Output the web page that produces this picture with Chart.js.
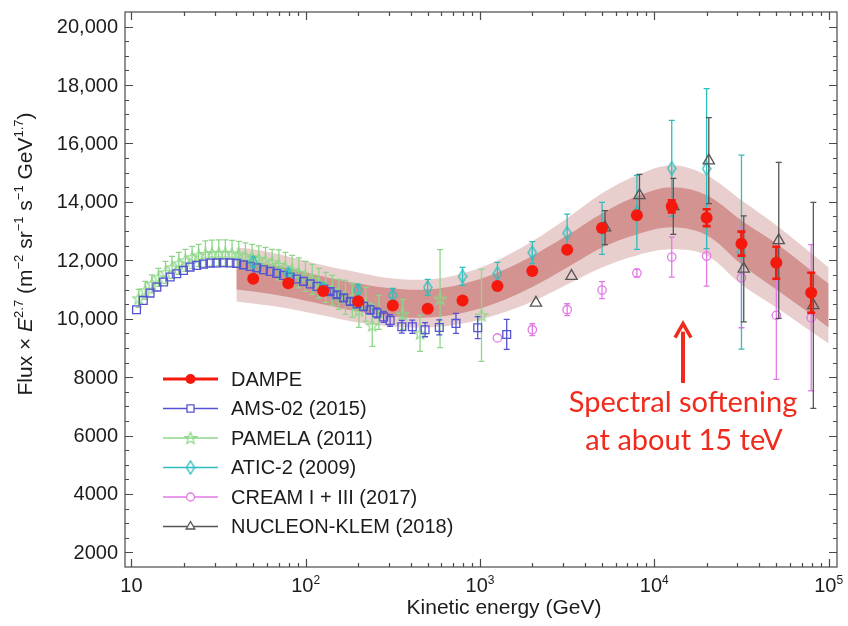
<!DOCTYPE html>
<html>
<head>
<meta charset="utf-8">
<title>Proton spectrum</title>
<script src="https://cdn.jsdelivr.net/npm/chart.js@4.4.0/dist/chart.umd.min.js"></script>
<style>
  html, body { margin: 0; padding: 0; background: #fff; }
  #wrap { width: 848px; height: 626px; position: relative; }
</style>
</head>
<body>
<div id="wrap"><canvas id="spectrum"></canvas></div>
<script>
// ---- measurements: kinetic energy (GeV) vs flux x E^2.7 ----
const dampeEnergy = [50, 79.4, 126, 200, 316, 501, 794, 1259, 1995, 3162, 5012, 7943, 12589, 19953, 31623, 50119, 79433];
const dampeFlux   = [11370, 11216, 10945, 10600, 10455, 10342, 10627, 11123, 11630, 12363, 13103, 13538, 13846, 13459, 12569, 11918, 10890];
const dampeErr    = [0, 0, 0, 0, 0, 0, 0, 0, 0, 50, 70, 100, 205, 290, 411, 548, 685];

// systematic bands around the DAMPE fit
const bandEnergy = [40, 50, 79.4, 126, 200, 316, 501, 794, 1259, 1995, 3162, 5012, 7943, 12589, 19953, 31623, 50119, 79433, 100000];
const outerHi = [12442, 12374, 12134, 11826, 11586, 11380, 11346, 11551, 11997, 12648, 13435, 14291, 14908, 15250, 14908, 14052, 13196, 12237, 11757];
const innerHi = [12031, 11962, 11740, 11449, 11209, 11038, 11003, 11192, 11586, 12151, 12853, 13606, 14189, 14497, 14223, 13366, 12579, 11654, 11209];
const innerLo = [11003, 10935, 10747, 10490, 10250, 10079, 10045, 10199, 10558, 11089, 11757, 12442, 12887, 13127, 12853, 11860, 11003, 10147, 9702];
const outerLo = [10593, 10524, 10353, 10113, 9873, 9736, 9702, 9839, 10147, 10593, 11175, 11757, 12168, 12374, 12168, 11175, 10387, 9565, 9154];

const amsEnergy = [10.7, 11.7, 12.8, 14.0, 15.3, 16.7, 18.2, 19.9, 21.7, 23.7, 25.9, 28.3, 30.9, 33.7, 36.8, 40.2, 43.9, 48.0, 52.4, 57.2,
                   62.5, 68.2, 74.5, 81.4, 88.9, 97.1, 106, 116, 127, 138, 151, 165, 180, 197, 215, 234, 256, 280, 305,
                   356, 409, 484, 584, 728, 970, 1423];
const amsFlux   = [10308, 10627, 10877, 11082, 11254, 11425, 11541, 11654, 11767, 11825, 11870, 11904, 11911, 11918, 11911, 11894, 11843, 11791, 11740, 11678,
                   11620, 11552, 11483, 11425, 11357, 11278, 11192, 11106, 11014, 10928, 10822, 10712, 10593, 10507, 10421, 10308, 10199, 10062, 9942,
                   9726, 9726, 9623, 9702, 9839, 9692, 9462];
const amsErr    = [0, 0, 0, 0, 0, 0, 0, 0, 0, 0, 0, 0, 0, 0, 0, 0, 0, 0, 0, 0,
                   0, 0, 0, 0, 0, 0, 0, 0, 80, 90, 100, 110, 120, 130, 140, 150, 170, 190, 200,
                   220, 225, 240, 257, 342, 377, 514];

const pamelaEnergy = [11.0, 12.0, 13.1, 14.3, 15.7, 17.1, 18.7, 20.4, 22.3, 24.3, 26.6, 29.0, 31.7, 34.6, 37.8, 41.3, 45.1, 49.3, 53.8, 58.8,
                      64.2, 70.1, 76.5, 83.6, 91.3, 99.7, 109, 119, 130, 142, 155, 169, 185, 202, 221, 241, 263,
                      360, 453, 590, 1020];
const pamelaFlux   = [10695, 10969, 11192, 11415, 11586, 11757, 11894, 11997, 12100, 12168, 12219, 12247, 12254, 12254, 12237, 12202, 12151, 12100, 12048, 11997,
                      11928, 11843, 11757, 11654, 11569, 11449, 11346, 11209, 11072, 10969, 10832, 10730, 10627, 10284, 10490, 9771, 10216,
                      10147, 9497, 10685, 10113];
const pamelaErr    = [308, 308, 308, 308, 377, 377, 377, 377, 377, 377, 445, 445, 445, 445, 445, 445, 445, 445, 445, 445,
                      445, 514, 514, 514, 514, 514, 514, 514, 514, 514, 514, 582, 582, 582, 582, 719, 582,
                      514, 617, 1678, 1575];

const aticEnergy = [50, 79.4, 126, 200, 316, 501, 794, 1259, 1995, 3162, 5012, 7943, 12589, 19953, 31623];
const aticFlux   = [11939, 11534, 11028, 10969, 10798, 11072, 11449, 11552, 12264, 12932, 13093, 13641, 15148, 15138, 12281];
const aticErr    = [171, 171, 171, 205, 240, 274, 308, 377, 377, 650, 890, 1267, 1644, 2740, 3322];

const creamEnergy = [1259, 1995, 3162, 5012, 7943, 12589, 19953, 31623, 50119, 79433];
const creamFlux   = [9342, 9623, 10308, 10980, 11562, 12110, 12144, 11404, 10113, 10034];
const creamErr    = [0, 205, 205, 291, 137, 685, 1028, 1713, 2192, 2500];

const nucleonEnergy = [2094, 3350, 5212, 8222, 12850, 20540, 32590, 51740, 81700];
const nucleonFlux   = [10541, 11459, 13120, 14223, 13846, 15412, 11706, 12682, 10455];
const nucleonErr    = [0, 0, 582, 719, 959, 1473, 1815, 2672, 3528];

// axis ticks and labels
const yTickValues = [2000, 4000, 6000, 8000, 10000, 12000, 14000, 16000, 18000, 20000];
const yTickLabels = ['2000', '4000', '6000', '8000', '10,000', '12,000', '14,000', '16,000', '18,000', '20,000'];
const xTickValues = [10, 100, 1000, 10000, 100000];
const xTickExponents = ['', '2', '3', '4', '5'];

const legendLabels = ['DAMPE', 'AMS-02 (2015)', 'PAMELA (2011)', 'ATIC-2 (2009)', 'CREAM I + III (2017)', 'NUCLEON-KLEM (2018)'];
const noteLines = ['Spectral softening', 'at about 15 teV'];
const noteEnergy = 15000;
const arrowFrom = 7800;   // flux units
const arrowTo = 9900;

const FONT = '"Liberation Sans", Arial, Helvetica, sans-serif';
const RED = '#f5190d';
const AMS_COLOR = '#5552d4';
const PAMELA_COLOR = '#8fd68a';
const ATIC_COLOR = '#2dbfbd';
const CREAM_COLOR = '#e27ae6';
const NUCLEON_COLOR = '#555555';
const NOTE_RED = '#f02a1c';

const pts = (xs, ys) => xs.map((x, i) => ({ x: x, y: ys[i] }));

// open five-pointed star marker
function makeStar(color) {
    const c = document.createElement('canvas');
    c.width = 14; c.height = 14;
    const g = c.getContext('2d');
    g.strokeStyle = color;
    g.lineWidth = 1.2;
    g.beginPath();
    for (let i = 0; i < 10; i++) {
        const r = i % 2 === 0 ? 6.2 : 2.6;
        const a = -Math.PI / 2 + i * Math.PI / 5;
        const px = 7 + r * Math.cos(a), py = 7.5 + r * Math.sin(a);
        if (i === 0) g.moveTo(px, py); else g.lineTo(px, py);
    }
    g.closePath();
    g.stroke();
    return c;
}

// open tall diamond marker
function makeDiamond(color) {
    const c = document.createElement('canvas');
    c.width = 10; c.height = 15;
    const g = c.getContext('2d');
    g.strokeStyle = color;
    g.lineWidth = 1.4;
    g.beginPath();
    g.moveTo(5, 1); g.lineTo(9, 7.5); g.lineTo(5, 14); g.lineTo(1, 7.5);
    g.closePath();
    g.stroke();
    return c;
}

const starImg = makeStar(PAMELA_COLOR);
const diamondImg = makeDiamond(ATIC_COLOR);

function band(data, fill, color, order) {
    return {
        type: 'line', data: data, order: order,
        fill: fill, backgroundColor: color,
        borderWidth: 0, pointRadius: 0, tension: 0.35, showLine: true
    };
}

const datasets = [
    { label: legendLabels[0], data: pts(dampeEnergy, dampeFlux), errors: dampeErr, errorWidth: 2.6, cap: 4,
      pointStyle: 'circle', pointRadius: 6, pointBackgroundColor: RED, pointBorderColor: RED, pointBorderWidth: 0,
      borderColor: RED, order: 0 },
    { label: legendLabels[1], data: pts(amsEnergy, amsFlux), errors: amsErr, cap: 3,
      pointStyle: 'rect', pointRadius: 5.5, pointBackgroundColor: 'rgba(0,0,0,0)', pointBorderColor: AMS_COLOR, pointBorderWidth: 1.3,
      borderColor: AMS_COLOR, order: 3 },
    { label: legendLabels[2], data: pts(pamelaEnergy, pamelaFlux), errors: pamelaErr, cap: 3,
      pointStyle: starImg, pointRadius: 6,
      borderColor: PAMELA_COLOR, order: 4 },
    { label: legendLabels[3], data: pts(aticEnergy, aticFlux), errors: aticErr, cap: 3,
      pointStyle: diamondImg, pointRadius: 6,
      borderColor: ATIC_COLOR, order: 2 },
    { label: legendLabels[4], data: pts(creamEnergy, creamFlux), errors: creamErr, cap: 3,
      pointStyle: 'circle', pointRadius: 4.2, pointBackgroundColor: 'rgba(0,0,0,0)', pointBorderColor: CREAM_COLOR, pointBorderWidth: 1.3,
      borderColor: CREAM_COLOR, order: 5 },
    { label: legendLabels[5], data: pts(nucleonEnergy, nucleonFlux), errors: nucleonErr, cap: 3,
      pointStyle: 'triangle', pointRadius: 6.5, pointBackgroundColor: 'rgba(0,0,0,0)', pointBorderColor: NUCLEON_COLOR, pointBorderWidth: 1.3,
      borderColor: NUCLEON_COLOR, order: 1 },
    band(pts(bandEnergy, outerHi), '+1', 'rgba(195,120,120,0.36)', 20),
    band(pts(bandEnergy, outerLo), false, 'rgba(0,0,0,0)', 20),
    band(pts(bandEnergy, innerHi), '+1', 'rgba(180,70,65,0.44)', 19),
    band(pts(bandEnergy, innerLo), false, 'rgba(0,0,0,0)', 19)
];

// vertical error bars drawn just under each marker set
const errorBars = {
    id: 'errorBars',
    beforeDatasetDraw(chart, args) {
        const ds = chart.data.datasets[args.index];
        if (!ds.errors) return;
        const ctx = chart.ctx, xs = chart.scales.x, ys = chart.scales.y;
        const cap = ds.cap || 3;
        ctx.save();
        ctx.strokeStyle = ds.borderColor;
        ctx.lineWidth = ds.errorWidth || 1.3;
        ds.data.forEach((p, i) => {
            const e = ds.errors[i];
            if (!e) return;
            const px = xs.getPixelForValue(p.x);
            const top = ys.getPixelForValue(p.y + e);
            const bot = ys.getPixelForValue(p.y - e);
            ctx.beginPath();
            ctx.moveTo(px, top); ctx.lineTo(px, bot);
            ctx.moveTo(px - cap, top); ctx.lineTo(px + cap, top);
            ctx.moveTo(px - cap, bot); ctx.lineTo(px + cap, bot);
            ctx.stroke();
        });
        ctx.restore();
    }
};

// draws text with superscript pieces, centred on (0, 0)
function drawRich(ctx, parts, size) {
    const supSize = Math.round(size * 0.62);
    const fontFor = k => (k === 'i' ? 'italic ' : '') + (k === 's' ? supSize : size) + 'px ' + FONT;
    let total = 0;
    parts.forEach(p => { ctx.font = fontFor(p[1]); total += ctx.measureText(p[0]).width; });
    let x = -total / 2;
    ctx.textAlign = 'left';
    ctx.textBaseline = 'alphabetic';
    parts.forEach(p => {
        ctx.font = fontFor(p[1]);
        ctx.fillText(p[0], x, p[1] === 's' ? -size * 0.42 : 0);
        x += ctx.measureText(p[0]).width;
    });
}

const yTitleParts = [['Flux × ', 'n'], ['E', 'i'], ['2.7', 's'], [' (m', 'n'], ['−2', 's'], [' sr', 'n'], ['−1', 's'],
                     [' s', 'n'], ['−1', 's'], [' GeV', 'n'], ['1.7', 's'], [')', 'n']];

// frame, inward ticks, tick labels, axis titles, legend and note
const decorations = {
    id: 'decorations',
    afterDraw(chart) {
        const ctx = chart.ctx, xs = chart.scales.x, ys = chart.scales.y;
        const a = chart.chartArea;
        ctx.save();

        ctx.strokeStyle = '#4a4a4a';
        ctx.lineWidth = 1.2;
        ctx.strokeRect(a.left, a.top, a.right - a.left, a.bottom - a.top);

        ctx.beginPath();
        for (let v = 2000; v < 20500; v += 500) {
            const py = Math.round(ys.getPixelForValue(v)) + 0.5;
            const len = v % 2000 === 0 ? 8 : 4;
            ctx.moveTo(a.left, py); ctx.lineTo(a.left + len, py);
            ctx.moveTo(a.right, py); ctx.lineTo(a.right - len, py);
        }
        xTickValues.forEach(dec => {
            for (let m = 1; m <= 9; m++) {
                const v = dec * m;
                if (v < xs.min || v > xs.max) continue;
                const px = Math.round(xs.getPixelForValue(v)) + 0.5;
                const len = m === 1 ? 8 : 4;
                ctx.moveTo(px, a.bottom); ctx.lineTo(px, a.bottom - len);
                ctx.moveTo(px, a.top); ctx.lineTo(px, a.top + len);
            }
        });
        ctx.stroke();

        ctx.fillStyle = '#1c1c1c';
        ctx.font = '20px ' + FONT;
        ctx.textAlign = 'right';
        ctx.textBaseline = 'middle';
        yTickValues.forEach((v, i) => ctx.fillText(yTickLabels[i], a.left - 7, ys.getPixelForValue(v) + 1));

        xTickValues.forEach((v, i) => {
            const px = xs.getPixelForValue(v);
            ctx.save();
            ctx.translate(px, 592);
            drawRich(ctx, xTickExponents[i] ? [['10', 'n'], [xTickExponents[i], 's']] : [['10', 'n']], 20);
            ctx.restore();
        });

        ctx.save();
        ctx.translate(504, 614);
        drawRich(ctx, [['Kinetic energy (GeV)', 'n']], 21);
        ctx.restore();

        ctx.save();
        ctx.translate(32, 254);
        ctx.rotate(-Math.PI / 2);
        drawRich(ctx, yTitleParts, 21);
        ctx.restore();

        // legend
        const rowY = [379, 408.5, 438, 467.5, 497, 526.5];
        chart.data.datasets.slice(0, 6).forEach((ds, i) => {
            const y = rowY[i];
            ctx.strokeStyle = ds.borderColor;
            ctx.lineWidth = i === 0 ? 3 : 1.5;
            ctx.beginPath();
            ctx.moveTo(163, y); ctx.lineTo(218, y);
            ctx.stroke();
            ctx.fillStyle = i === 0 ? RED : '#fff';
            ctx.strokeStyle = ds.borderColor;
            ctx.lineWidth = 1.3;
            Chart.helpers.drawPoint(ctx, {
                pointStyle: ds.pointStyle, rotation: 0,
                radius: i === 0 ? 5 : (i === 4 ? 4 : 5), borderWidth: i === 0 ? 0 : 1.3
            }, 190.5, y);
            ctx.fillStyle = '#1c1c1c';
            ctx.font = '20px ' + FONT;
            ctx.textAlign = 'left';
            ctx.textBaseline = 'middle';
            ctx.fillText(ds.label, 231, y + 1);
        });

        // annotation arrow and caption
        const ax = xs.getPixelForValue(noteEnergy) - 2;
        const tipY = ys.getPixelForValue(arrowTo);
        const tailY = ys.getPixelForValue(arrowFrom);
        ctx.strokeStyle = NOTE_RED;
        ctx.fillStyle = NOTE_RED;
        ctx.lineWidth = 4;
        ctx.beginPath();
        ctx.moveTo(ax, tailY); ctx.lineTo(ax, tipY + 10);
        ctx.stroke();
        ctx.lineWidth = 3.5;
        ctx.lineJoin = 'miter';
        ctx.beginPath();
        ctx.moveTo(ax - 8, tipY + 16); ctx.lineTo(ax, tipY + 2); ctx.lineTo(ax + 8, tipY + 16);
        ctx.stroke();

        ctx.font = '29px Lato, "Open Sans", sans-serif';
        ctx.textAlign = 'center';
        ctx.textBaseline = 'alphabetic';
        ctx.fillText(noteLines[0], ax, 412);
        ctx.fillText(noteLines[1], ax + 1, 450);

        ctx.restore();
    }
};

new Chart(document.getElementById('spectrum'), {
    type: 'scatter',
    data: { datasets: datasets },
    options: {
        responsive: true,
        maintainAspectRatio: false,
        animation: false,
        layout: { padding: { left: 125, top: 12, right: 11, bottom: 59 } },
        plugins: {
            legend: { display: false },
            tooltip: { enabled: false }
        },
        scales: {
            x: { type: 'logarithmic', min: 9.19, max: 111700, display: false },
            y: { type: 'linear', min: 1500, max: 20500, display: false }
        }
    },
    plugins: [errorBars, decorations]
});
</script>
</body>
</html>
